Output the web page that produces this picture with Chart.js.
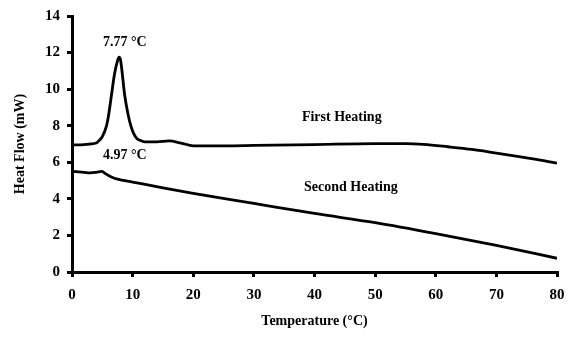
<!DOCTYPE html>
<html>
<head>
<meta charset="utf-8">
<script src="https://cdn.jsdelivr.net/npm/chart.js@4/dist/chart.umd.min.js"></script>
<style>
  html, body { margin: 0; padding: 0; background: #fff; }
  #wrap { width: 568px; height: 338px; }
</style>
</head>
<body>
<div id="wrap"><canvas id="dsc"></canvas></div>
<script>
// First heating run
const firstTemp = [0, 2, 3, 4, 4.5, 5, 5.7, 6, 6.5, 7, 7.5, 7.77, 8, 8.7, 9.2, 9.7, 10.2, 10.7, 11.2, 12, 14, 16, 18, 20, 25, 30, 40, 50, 55, 58, 62, 66, 70, 74, 78, 80];
const firstFlow = [6.95, 6.97, 7.0, 7.05, 7.2, 7.4, 8.0, 8.5, 9.65, 10.8, 11.55, 11.75, 11.6, 9.65, 8.7, 8.0, 7.55, 7.3, 7.2, 7.12, 7.12, 7.17, 7.05, 6.9, 6.9, 6.92, 6.97, 7.02, 7.02, 6.98, 6.85, 6.7, 6.5, 6.3, 6.08, 5.95];

// Second heating run
const secondTemp = [0, 2, 3, 4, 4.97, 5.5, 6.5, 7.5, 10, 15, 20, 30, 40, 50, 60, 70, 80];
const secondFlow = [5.5, 5.45, 5.42, 5.45, 5.5, 5.38, 5.2, 5.08, 4.92, 4.6, 4.3, 3.75, 3.2, 2.7, 2.1, 1.45, 0.75];

// Text labels placed in data coordinates
const noteText = ["7.77 °C", "4.97 °C", "First Heating", "Second Heating"];
const noteX = [8.7, 8.7, 44.5, 46];
const noteY = [12.55, 6.4, 8.45, 4.65];

const toPoints = (xs, ys) => xs.map((x, i) => ({ x: x, y: ys[i] }));

const fontFamily = "'Liberation Serif', 'DejaVu Serif', serif";

// Draws the peak temperatures and run names on the plot
const notesPlugin = {
  id: "notes",
  afterDatasetsDraw(chart) {
    const ctx = chart.ctx;
    const xs = chart.scales.x, ys = chart.scales.y;
    ctx.save();
    ctx.fillStyle = "#000";
    ctx.font = "bold 14px " + fontFamily;
    ctx.textAlign = "center";
    ctx.textBaseline = "middle";
    noteText.forEach((t, i) => {
      ctx.fillText(t, xs.getPixelForValue(noteX[i]), ys.getPixelForValue(noteY[i]));
    });
    ctx.restore();
  }
};

new Chart(document.getElementById("dsc"), {
  type: "line",
  data: {
    datasets: [
      {
        label: "First Heating",
        data: toPoints(firstTemp, firstFlow),
        borderColor: "#000",
        borderWidth: 2.8,
        pointRadius: 0,
        cubicInterpolationMode: "monotone"
      },
      {
        label: "Second Heating",
        data: toPoints(secondTemp, secondFlow),
        borderColor: "#000",
        borderWidth: 2.8,
        pointRadius: 0,
        cubicInterpolationMode: "monotone"
      }
    ]
  },
  options: {
    responsive: true,
    maintainAspectRatio: false,
    animation: false,
    layout: { padding: { top: 15, right: 11, left: 0, bottom: 0 } },
    plugins: {
      legend: { display: false },
      tooltip: { enabled: false }
    },
    scales: {
      x: {
        type: "linear",
        min: 0,
        max: 80,
        ticks: { stepSize: 10, color: "#000", font: { family: fontFamily, size: 15, weight: "bold" }, padding: 9 },
        grid: { drawOnChartArea: false, color: "#000", lineWidth: 3, tickLength: 5 },
        border: { color: "#000", width: 3 },
        title: { display: true, text: "Temperature (°C)", color: "#000", font: { family: fontFamily, size: 14, weight: "bold" }, padding: { top: 4, bottom: 8 } },
        afterFit(scale) {
          scale.height = 66;
          scale.paddingRight = 0;
        }
      },
      y: {
        min: 0,
        max: 14,
        ticks: { stepSize: 2, color: "#000", font: { family: fontFamily, size: 15, weight: "bold" }, padding: 7 },
        grid: { drawOnChartArea: false, color: "#000", lineWidth: 3, tickLength: 5 },
        border: { color: "#000", width: 3 },
        title: { display: true, text: "Heat Flow (mW)", color: "#000", font: { family: fontFamily, size: 14, weight: "bold" }, padding: { top: 12, bottom: 4 } },
        afterFit(scale) { scale.width = 72; }
      }
    }
  },
  plugins: [notesPlugin]
});
</script>
</body>
</html>
